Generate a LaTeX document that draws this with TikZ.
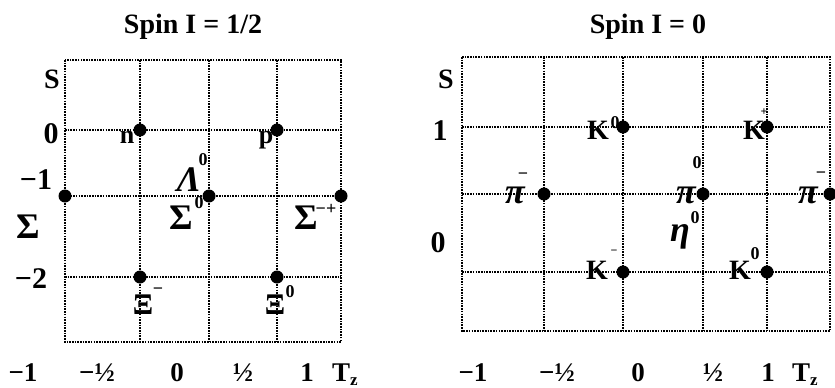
\documentclass[tikz,border=0pt]{standalone}
\usepackage{fontspec}
\setmainfont{Liberation Serif}
\begin{document}
\begin{tikzpicture}[x=1pt,y=-1pt,
  grid/.style={line width=1.1pt, dash pattern=on 1.6pt off 1.1pt},
  dot/.style={circle,fill=black,inner sep=0pt,minimum size=13pt},
  lab/.style={font=\fontsize{28}{30}\selectfont\bfseries,inner sep=0pt,anchor=base},
  num/.style={font=\fontsize{27}{30}\selectfont\bfseries,inner sep=0pt,anchor=base},
  axn/.style={font=\fontsize{30}{32}\selectfont\bfseries,inner sep=0pt,anchor=base},
  sml/.style={font=\fontsize{26}{28}\selectfont\bfseries,inner sep=0pt,anchor=base},
  gk/.style={font=\fontsize{36}{38}\selectfont\bfseries,inner sep=0pt,anchor=base},
  gki/.style={font=\fontsize{36}{38}\selectfont\bfseries\itshape,inner sep=0pt,anchor=base},
  xi/.style={font=\fontsize{30}{32}\selectfont\bfseries,inner sep=0pt,anchor=base},
  supl/.style={font=\fontsize{18}{19}\selectfont\bfseries,inner sep=0pt},
  tiny/.style={font=\fontsize{12}{13}\selectfont\bfseries,inner sep=0pt},
]
\useasboundingbox (0,0) rectangle (835,388);
% ---------- left panel ----------
\draw[grid] (65,60) rectangle (341,342);
\foreach \x in {140,209,277} \draw[grid] (\x,60) -- (\x,342);
\foreach \y in {130,196,277} \draw[grid] (65,\y) -- (341,\y);
\node[lab] (t1) at (193,33) {Spin I = 1/2};
\node[lab] (s1) at (52,88) {S};
\node[axn] (l0) at (51,143) {0};
\node[axn] (lm1) at (36,189) {−1};
\node[gk] (lsig) at (28,238) {Σ};
\node[axn] (lm2) at (31,288) {−2};
\node[num] (b1) at (23,381) {−1};
\node[num] (b2) at (97,381) {−½};
\node[num] (b3) at (177,381) {0};
\node[num] (b4) at (243,381) {½};
\node[num] (b5) at (307,381) {1};
\node[num] (b6) at (345,381) {T\raisebox{-4pt}{\fontsize{17}{17}\selectfont z}};
\node[dot] (sm) at (65,196) {};
\node[dot] (n) at (140,130) {};
\node[dot] (s0) at (209,196) {};
\node[dot] (p) at (277,130) {};
\node[dot] (sp) at (341,196) {};
\node[dot] (xm) at (140,277) {};
\node[dot] (x0) at (277,277) {};
\node[sml] (nl) at (127,143) {n};
\node[sml] (pl) at (266,143) {p};
\node[gki] (lam) at (189,191) {Λ};
\node[supl] (lam0) at (203,160) {0};
\node[gk] (s0l) at (181,229) {Σ};
\node[supl] (s0s) at (199,203) {0};
\node[gk] (spl) at (306,229) {Σ};
\node[supl] (sps) at (326,209) {−+};
\node[xi] (xml) at (143,314) {Ξ};
\node[supl] (xms) at (158,291) {−};
\node[xi] (x0l) at (275,314) {Ξ};
\node[supl] (x0s) at (290,292) {0};
% ---------- right panel ----------
\draw[grid] (462,57) rectangle (830,331);
\foreach \x in {544,623,703,767} \draw[grid] (\x,57) -- (\x,331);
\foreach \y in {127,194,272} \draw[grid] (462,\y) -- (830,\y);
\node[lab] (t2) at (648,33) {Spin I = 0};
\node[lab] (s2) at (446,88) {S};
\node[axn] (r1) at (440,140) {1};
\node[axn] (r0) at (438,252) {0};
\node[num] (c1) at (473,381) {−1};
\node[num] (c2) at (557,381) {−½};
\node[num] (c3) at (638,381) {0};
\node[num] (c4) at (713,381) {½};
\node[num] (c5) at (768,381) {1};
\node[num] (c6) at (805,381) {T\raisebox{-4pt}{\fontsize{17}{17}\selectfont z}};
\node[dot] (k0) at (623,127) {};
\node[dot] (kp) at (767,127) {};
\node[dot] (pib) at (544,194) {};
\node[dot] (pi0) at (703,194) {};
\node[dot] (pim) at (830,194) {};
\node[dot] (km) at (623,272) {};
\node[dot] (k0b) at (767,272) {};
\node[lab] (k0l) at (598,139) {K};
\node[supl] (k0s) at (615,123) {0};
\node[lab] (kpl) at (754,139) {K};
\node[tiny] (kps) at (764,112) {+};
\node[gki] (pibl) at (515,203) {π};
\node[supl] (pibs) at (523,176) {−};
\node[gki] (pi0l) at (686,203) {π};
\node[supl] (pi0s) at (697,163) {0};
\node[gki] (piml) at (808,203) {π};
\node[supl] (pims) at (821,175) {−};
\node[gki] (etal) at (680,241) {η};
\node[supl] (etas) at (695,218) {0};
\node[lab] (kml) at (597,279) {K};
\node[tiny] (kms) at (614,252) {−};
\node[lab] (k0bl) at (740,279) {K};
\node[supl] (k0bs) at (755,254) {0};
\end{tikzpicture}
\end{document}
